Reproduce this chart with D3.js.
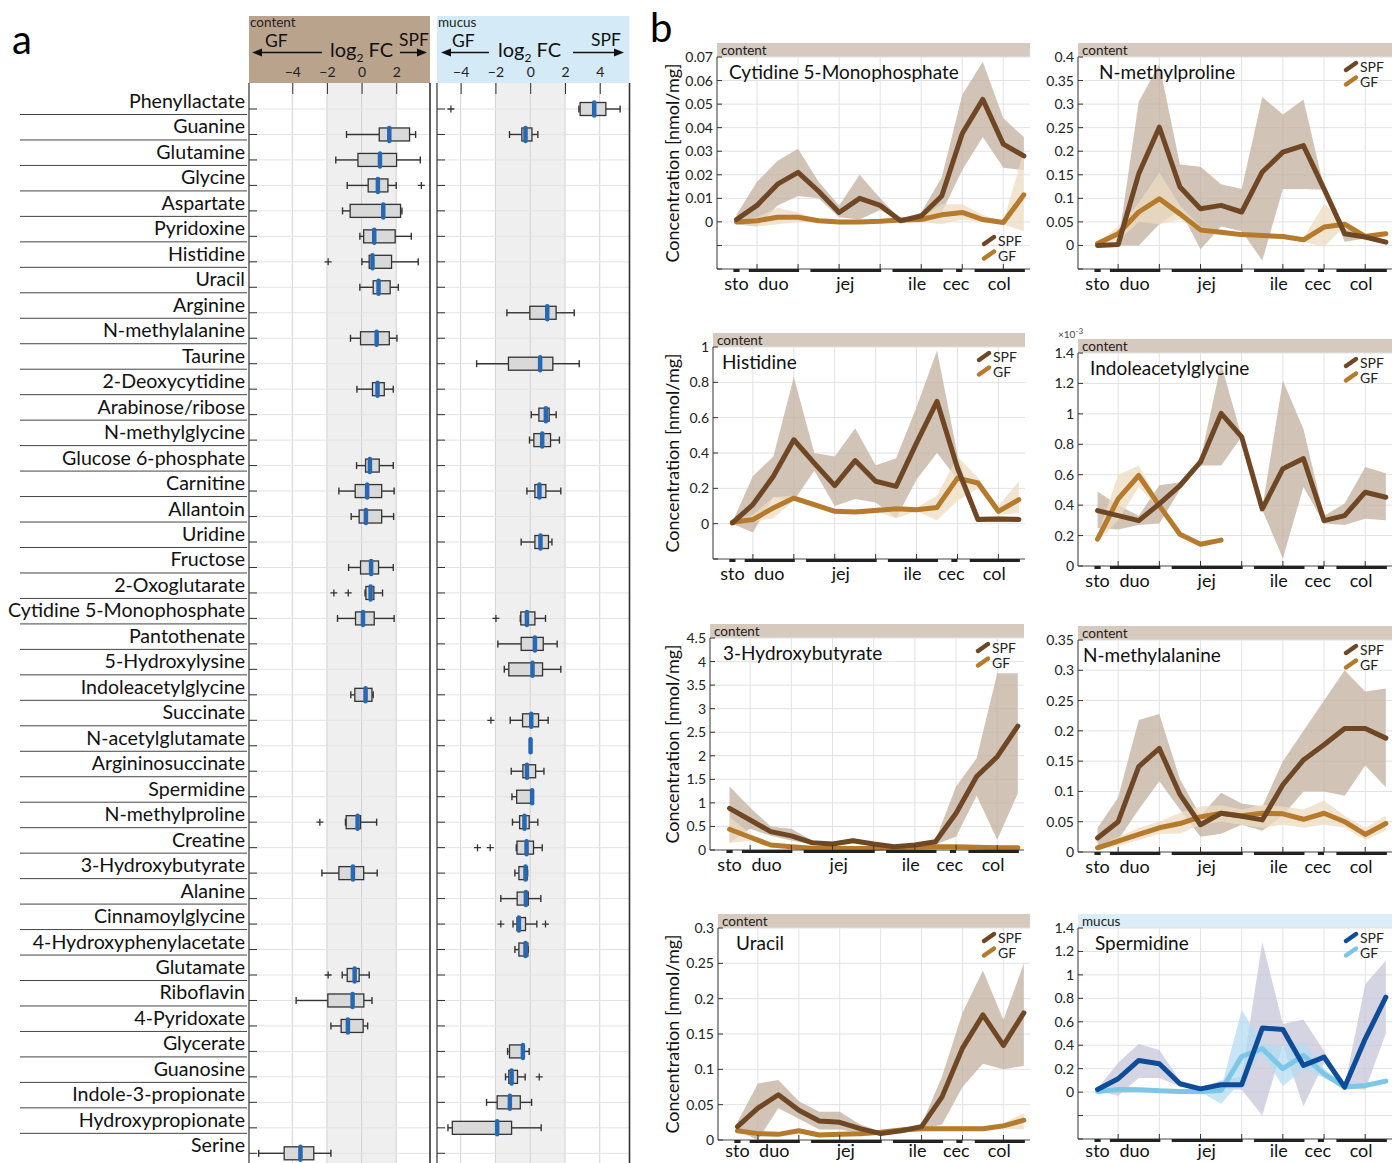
<!DOCTYPE html>
<html>
<head>
<meta charset="utf-8">
<script src="https://cdn.jsdelivr.net/npm/d3@7"></script>
<style>
body { margin: 0; background: #fff; }
svg { font-family: Lato, "Noto Sans", sans-serif; }
</style>
</head>
<body>
<script>
// ---------- panel a: log2 fold change per metabolite ----------
var metabolites = ["Phenyllactate", "Guanine", "Glutamine", "Glycine", "Aspartate", "Pyridoxine",
  "Histidine", "Uracil", "Arginine", "N-methylalanine", "Taurine", "2-Deoxycytidine",
  "Arabinose/ribose", "N-methylglycine", "Glucose 6-phosphate", "Carnitine", "Allantoin",
  "Uridine", "Fructose", "2-Oxoglutarate", "Cytidine 5-Monophosphate", "Pantothenate",
  "5-Hydroxylysine", "Indoleacetylglycine", "Succinate", "N-acetylglutamate",
  "Argininosuccinate", "Spermidine", "N-methylproline", "Creatine", "3-Hydroxybutyrate",
  "Alanine", "Cinnamoylglycine", "4-Hydroxyphenylacetate", "Glutamate", "Riboflavin",
  "4-Pyridoxate", "Glycerate", "Guanosine", "Indole-3-propionate", "Hydroxypropionate", "Serine"]

// [whisker low, q1, median, q3, whisker high]
var contentStats = [null, [-0.87, 1.02, 1.6, 2.77, 3.12], [-1.49, -0.21, 1.06, 2.02, 3.39],
  [-0.83, 0.38, 0.94, 1.52, 2.0], [-1.1, -0.66, 1.25, 2.25, 2.33], [-0.1, 0.12, 0.73, 1.94, 2.87],
  [0.02, 0.44, 0.63, 1.73, 3.27], [-0.1, 0.67, 0.98, 1.65, 2.12], null,
  [-0.64, -0.06, 0.87, 1.6, 2.04], null, [-0.27, 0.63, 0.92, 1.31, 1.83], null, null,
  [-0.29, 0.23, 0.48, 1.02, 1.83], [-1.31, -0.37, 0.32, 1.16, 1.88], [-0.6, -0.14, 0.25, 1.16, 1.85],
  null, [-0.75, -0.06, 0.55, 0.98, 1.83], [0.2, 0.25, 0.52, 0.71, 1.21],
  [-1.39, -0.35, 0.08, 0.73, 1.88], null, null, [-0.62, -0.39, 0.23, 0.6, 0.67], null, null, null, null,
  [-0.93, -0.89, -0.23, -0.06, 0.87], null, [-2.29, -1.31, -0.5, 0.12, 0.9], null, null, null,
  [-1.12, -0.83, -0.4, -0.14, 0.44], [-3.78, -1.95, -0.52, 0.13, 0.6], [-1.77, -1.18, -0.79, 0.09, 0.35],
  null, null, null, null, [-5.94, -4.47, -3.53, -2.76, -1.77]]

var mucusStats = [[2.8, 2.87, 3.68, 4.35, 5.17], [-1.19, -0.48, -0.27, 0.1, 0.44], null, null, null, null,
  null, null, [-1.34, -0.02, 0.98, 1.49, 2.53], null, [-3.08, -1.25, 0.57, 1.3, 2.82], null,
  [0.06, 0.5, 0.9, 1.09, 1.49], [-0.04, 0.21, 0.69, 1.17, 1.68], null, [-0.19, 0.27, 0.53, 0.9, 1.76],
  null, [-0.52, 0.27, 0.59, 1.05, 1.25], null, null, [-0.57, -0.54, -0.19, 0.27, 0.88],
  [-1.86, -0.52, 0.27, 0.75, 1.55], [-1.49, -1.23, 0.13, 0.71, 1.76], null,
  [-1.15, -0.44, 0.06, 0.48, 1.03], [0.02, 0.02, 0.02, 0.02, 0.02], [-1.09, -0.42, -0.19, 0.31, 0.79],
  [-1.05, -0.78, 0.11, 0.11, 0.11], [-1.02, -0.61, -0.33, -0.06, 0.44], [-0.8, -0.76, -0.21, 0.19, 0.69],
  [-0.88, -0.65, -0.27, -0.16, -0.15], [-1.69, -0.75, -0.25, -0.11, 0.61],
  [-0.99, -0.76, -0.65, -0.27, 0.38], [-0.88, -0.65, -0.27, -0.13, -0.12], null, null, null,
  [-1.3, -1.19, -0.42, -0.42, -0.06], [-1.42, -1.23, -1.07, -0.73, -0.29],
  [-2.51, -1.9, -1.17, -0.57, 0.08], [-4.73, -4.48, -1.9, -1.07, 0.63], null]

// [row index, value]
var contentOutliers = [[3, 3.45], [6, -1.93], [19, -1.6], [19, -0.77], [28, -2.41], [34, -1.93]]
var mucusOutliers = [[0, -4.56], [20, -1.97], [24, -2.26], [29, -3.03], [29, -2.3], [32, -1.69],
  [32, 0.88], [38, 0.52]]

var contentTicks = [-4, -2, 0, 2]
var mucusTicks = [-4, -2, 0, 2, 4]

// ---------- panel b: concentration along the gut ----------
var regionNames = ["sto", "duo", "jej", "ile", "cec", "col"]
var regionStart = [-0.15, 0.6, 3.6, 7.6, 10.7, 11.6]
var regionEnd = [0.15, 3.05, 7.05, 10.05, 11.0, 14.05]
var regionLabelAt = [0, 1.8, 5.3, 8.8, 10.7, 12.8]
var sites = d3.range(15)

var cmpSPF = { mean: [0.001, 0.007, 0.016, 0.021, 0.013, 0.004, 0.010, 0.007, 0.0005, 0.0025, 0.011, 0.0375, 0.052, 0.033, 0.028],
  hi: [0.003, 0.017, 0.026, 0.031, 0.017, 0.007, 0.020, 0.010, 0.001, 0.004, 0.019, 0.054, 0.068, 0.044, 0.036],
  lo: [-0.001, -0.002, 0.007, 0.011, 0.010, 0.002, 0.001, 0.005, 0.0, 0.001, 0.004, 0.022, 0.036, 0.023, 0.022] }
var cmpGF = { mean: [0.0, 0.0005, 0.002, 0.002, 0.0005, 0.0, 0.0, 0.0003, 0.0008, 0.001, 0.003, 0.004, 0.001, -0.0003, 0.0115],
  hi: [0.0005, 0.002, 0.006, 0.004, 0.001, 0.0005, 0.0005, 0.001, 0.0015, 0.002, 0.0075, 0.0075, 0.003, 0.0, 0.03],
  lo: [-0.0005, -0.002, -0.001, 0.0, 0.0, -0.0005, -0.0005, 0.0, 0.0, 0.0, -0.001, 0.001, 0.0, -0.001, -0.004] }

var nmpSPF = { mean: [0.0, 0.002, 0.152, 0.251, 0.124, 0.078, 0.085, 0.071, 0.156, 0.198, 0.212, 0.12, 0.025, 0.018, 0.007],
  hi: [0.003, 0.005, 0.305, 0.385, 0.172, 0.167, 0.13, 0.12, 0.315, 0.278, 0.31, 0.122, 0.035, 0.025, 0.01],
  lo: [0.0, 0.0, 0.0, 0.045, 0.075, -0.008, 0.04, 0.03, -0.032, 0.12, 0.12, 0.118, 0.008, 0.015, 0.005] }
var nmpGF = { mean: [0.004, 0.025, 0.071, 0.099, 0.067, 0.033, 0.028, 0.023, 0.021, 0.019, 0.012, 0.039, 0.045, 0.019, 0.025],
  hi: [0.006, 0.04, 0.09, 0.155, 0.085, 0.04, 0.033, 0.027, 0.025, 0.023, 0.016, 0.088, 0.05, 0.025, 0.03],
  lo: [0.002, 0.01, 0.05, 0.045, 0.055, 0.028, 0.022, 0.018, 0.016, 0.015, 0.008, -0.003, 0.04, 0.01, 0.02] }

var hisSPF = { mean: [0.004, 0.108, 0.268, 0.475, 0.343, 0.215, 0.357, 0.24, 0.211, 0.457, 0.692, 0.315, 0.023, 0.026, 0.023],
  hi: [0.01, 0.27, 0.38, 0.83, 0.40, 0.38, 0.54, 0.33, 0.37, 0.66, 0.98, 0.39, 0.04, 0.04, 0.04],
  lo: [0.0, -0.05, 0.15, 0.13, 0.3, 0.1, 0.14, 0.12, 0.03, 0.25, 0.4, 0.25, 0.01, 0.01, 0.01] }
var hisGF = { mean: [0.008, 0.023, 0.089, 0.145, 0.108, 0.07, 0.066, 0.075, 0.085, 0.079, 0.092, 0.258, 0.23, 0.07, 0.136],
  hi: [0.01, 0.05, 0.15, 0.16, 0.12, 0.08, 0.08, 0.09, 0.1, 0.09, 0.16, 0.38, 0.26, 0.1, 0.24],
  lo: [0.005, 0.01, 0.03, 0.13, 0.09, 0.06, 0.06, 0.07, 0.03, 0.07, 0.02, 0.13, 0.2, 0.05, 0.06] }

// values in units of 1e-3 nmol/mg
var iagSPF = { mean: [0.364, 0.331, 0.298, 0.408, 0.529, 0.684, 1.003, 0.849, 0.375, 0.64, 0.706, 0.298, 0.331, 0.485, 0.452],
  hi: [0.49, 0.40, 0.33, 0.53, 0.55, 0.70, 1.33, 0.85, 0.38, 1.22, 0.9, 0.33, 0.41, 0.65, 0.61],
  lo: [0.25, 0.24, 0.27, 0.28, 0.5, 0.66, 0.66, 0.85, 0.37, 0.05, 0.52, 0.28, 0.27, 0.31, 0.3] }
var iagGF = { mean: [0.176, 0.441, 0.595, 0.397, 0.209, 0.143, 0.17, null, null, null, null, null, null, null, null],
  hi: [0.2, 0.6, 0.66, 0.42, 0.22, 0.15, 0.18, null, null, null, null, null, null, null, null],
  lo: [0.16, 0.3, 0.52, 0.38, 0.2, 0.14, 0.16, null, null, null, null, null, null, null, null] }

var hbSPF = { mean: [0.885, 0.637, 0.39, 0.3, 0.156, 0.128, 0.198, 0.128, 0.07, 0.106, 0.177, 0.78, 1.56, 1.98, 2.63],
  hi: [1.35, 0.9, 0.5, 0.45, 0.2, 0.17, 0.25, 0.16, 0.1, 0.13, 0.22, 1.35, 1.95, 3.75, 3.75],
  lo: [0.15, 0.45, 0.3, 0.2, 0.12, 0.1, 0.15, 0.1, 0.04, 0.08, 0.12, 0.28, 1.15, 0.22, 1.2] }
var hbGF = { mean: [0.44, 0.27, 0.106, 0.07, 0.035, 0.03, 0.03, 0.03, 0.05, 0.06, 0.07, 0.07, 0.06, 0.05, 0.05],
  hi: [0.7, 0.35, 0.15, 0.1, 0.05, 0.04, 0.04, 0.04, 0.07, 0.08, 0.09, 0.09, 0.08, 0.07, 0.07],
  lo: [0.15, 0.2, 0.08, 0.05, 0.02, 0.02, 0.02, 0.02, 0.03, 0.04, 0.05, 0.05, 0.04, 0.03, 0.03] }

var nmaSPF = { mean: [0.023, 0.05, 0.141, 0.171, 0.095, 0.045, 0.064, 0.059, 0.053, 0.111, 0.152, 0.177, 0.204, 0.204, 0.188],
  hi: [0.04, 0.09, 0.218, 0.228, 0.12, 0.06, 0.098, 0.08, 0.075, 0.15, 0.2, 0.25, 0.3, 0.265, 0.27],
  lo: [0.01, 0.02, 0.07, 0.117, 0.07, 0.025, 0.03, 0.045, 0.035, 0.06, 0.1, 0.1, 0.093, 0.143, 0.107] }
var nmaGF = { mean: [0.007, 0.018, 0.029, 0.04, 0.047, 0.058, 0.064, 0.06, 0.064, 0.063, 0.054, 0.064, 0.05, 0.029, 0.047],
  hi: [0.01, 0.025, 0.04, 0.05, 0.065, 0.075, 0.077, 0.07, 0.078, 0.075, 0.07, 0.085, 0.06, 0.04, 0.06],
  lo: [0.003, 0.01, 0.02, 0.03, 0.03, 0.045, 0.05, 0.045, 0.04, 0.045, 0.04, 0.045, 0.04, 0.02, 0.035] }

var uraSPF = { mean: [0.019, 0.045, 0.064, 0.042, 0.027, 0.025, 0.016, 0.009, 0.013, 0.019, 0.061, 0.13, 0.177, 0.134, 0.18],
  hi: [0.025, 0.08, 0.085, 0.055, 0.04, 0.04, 0.022, 0.012, 0.017, 0.022, 0.09, 0.18, 0.24, 0.17, 0.25],
  lo: [0.013, 0.0, 0.045, 0.03, 0.015, 0.015, 0.01, 0.007, 0.01, 0.015, 0.022, 0.075, 0.108, 0.1, 0.105] }
var uraGF = { mean: [0.013, 0.009, 0.008, 0.013, 0.007, 0.008, 0.009, 0.011, 0.014, 0.016, 0.016, 0.016, 0.016, 0.02, 0.028],
  hi: [0.016, 0.012, 0.011, 0.016, 0.01, 0.011, 0.012, 0.014, 0.017, 0.019, 0.019, 0.019, 0.019, 0.024, 0.038],
  lo: [0.01, 0.006, 0.005, 0.01, 0.004, 0.005, 0.006, 0.008, 0.011, 0.013, 0.013, 0.013, 0.013, 0.016, 0.015] }

var spdSPF = { mean: [0.023, 0.114, 0.27, 0.242, 0.071, 0.028, 0.063, 0.063, 0.546, 0.535, 0.228, 0.299, 0.043, 0.455, 0.81],
  hi: [0.03, 0.25, 0.41, 0.36, 0.1, 0.04, 0.1, 0.13, 1.28, 0.58, 0.62, 0.35, 0.05, 0.92, 1.12],
  lo: [0.01, -0.03, 0.12, 0.12, 0.05, 0.02, 0.03, 0.02, -0.2, 0.4, -0.12, 0.25, 0.04, 0.02, 0.5] }
var spdGF = { mean: [0.006, 0.023, 0.02, 0.011, 0.006, 0.006, 0.014, 0.304, 0.37, 0.2, 0.313, 0.156, 0.043, 0.057, 0.094],
  hi: [0.02, 0.04, 0.04, 0.03, 0.02, 0.02, 0.03, 0.7, 0.42, 0.38, 0.43, 0.2, 0.06, 0.07, 0.11],
  lo: [0.0, 0.01, 0.01, 0.0, 0.0, 0.0, -0.1, 0.1, 0.33, 0.05, 0.2, 0.12, 0.03, 0.04, 0.08] }

var contentColors = { spf: "#6f4725", gf: "#b57a2b", spfBand: "#c2b09e", gfBand: "#ecdcc2", header: "#d6c9bd" }
var mucusColors = { spf: "#0e4c99", gf: "#7ec6e8", spfBand: "#c5c5da", gfBand: "#b4dcf1", header: "#dbedf7" }

var profiles = [
  { title: "Cytidine 5-Monophosphate", spf: cmpSPF, gf: cmpGF, y: [-0.02, 0.07], step: 0.01, tissue: "content",
    box: [717, 1030, 57, 269], titleDx: 12, legendBottom: true, yLabel: true },
  { title: "N-methylproline", spf: nmpSPF, gf: nmpGF, y: [-0.05, 0.4], step: 0.05, tissue: "content",
    box: [1078, 1392, 57, 269], titleDx: 21 },
  { title: "Histidine", spf: hisSPF, gf: hisGF, y: [-0.2, 1], step: 0.2, tissue: "content",
    box: [713, 1025, 347, 559], titleDx: 9, yLabel: true },
  { title: "Indoleacetylglycine", spf: iagSPF, gf: iagGF, y: [0, 1.4], step: 0.2, tissue: "content",
    box: [1078, 1392, 353, 566], titleDx: 12, exponent: "-3" },
  { title: "3-Hydroxybutyrate", spf: hbSPF, gf: hbGF, y: [0, 4.5], step: 0.5, tissue: "content",
    box: [710, 1024, 638, 850], titleDx: 13, yLabel: true },
  { title: "N-methylalanine", spf: nmaSPF, gf: nmaGF, y: [0, 0.35], step: 0.05, tissue: "content",
    box: [1078, 1392, 640, 852], titleDx: 5 },
  { title: "Uracil", spf: uraSPF, gf: uraGF, y: [0, 0.3], step: 0.05, tissue: "content",
    box: [718, 1030, 928, 1140], titleDx: 18, yLabel: true },
  { title: "Spermidine", spf: spdSPF, gf: spdGF, y: [-0.4, 1.4], step: 0.2, tissue: "mucus",
    box: [1078, 1392, 928, 1139], titleDx: 17 }
]

var svg = d3.select("body").append("svg")
  .attr("width", 1392).attr("height", 1163)

svg.append("text").attr("x", 12).attr("y", 54).attr("font-size", 40).text("a")
svg.append("text").attr("x", 650).attr("y", 42).attr("font-size", 40).text("b")

// ---------- panel a ----------
var rowY = d3.scaleLinear().domain([0, metabolites.length - 1]).range([109, 1153.3])
var plotTop = 83, plotBottom = 1163

var labels = svg.append("g")
labels.selectAll("text").data(metabolites).enter().append("text")
  .attr("x", 245).attr("y", function(d, i) { return rowY(i) - 1 })
  .attr("text-anchor", "end").attr("font-size", 19.6).attr("fill", "#111")
  .text(function(d) { return d })
labels.selectAll("line").data(metabolites.slice(0, -1)).enter().append("line")
  .attr("x1", 20).attr("x2", 247)
  .attr("y1", function(d, i) { return rowY(i) + 5.5 }).attr("y2", function(d, i) { return rowY(i) + 5.5 })
  .attr("stroke", "#444").attr("stroke-width", 1)

function drawArrow(g, xFrom, xTo, y) {
  var dir = xTo > xFrom ? 1 : -1
  g.append("line").attr("x1", xFrom).attr("x2", xTo - dir * 6).attr("y1", y).attr("y2", y)
    .attr("stroke", "#111").attr("stroke-width", 1.5)
  g.append("path")
    .attr("d", "M" + xTo + "," + y + "L" + (xTo - dir * 10) + "," + (y - 4) + "L" + (xTo - dir * 10) + "," + (y + 4) + "Z")
    .attr("fill", "#111")
}

function drawFoldPanel(p) {
  var g = svg.append("g")
  var x = d3.scaleLinear().domain(p.domain).range([p.left, p.right])

  g.append("rect").attr("x", p.left).attr("y", 16).attr("width", p.right - p.left).attr("height", plotTop - 16)
    .attr("fill", p.headerColor)
  g.append("text").attr("x", p.left + 1).attr("y", 27).attr("font-size", 13.5).attr("fill", "#222").text(p.name)
  g.append("text").attr("x", p.gfX).attr("y", 47).attr("font-size", 17.5).attr("fill", "#111").text("GF")
  g.append("text").attr("x", p.spfX).attr("y", 46).attr("font-size", 17.5).attr("fill", "#111").text("SPF")
  var lf = g.append("text").attr("x", p.logX).attr("y", 57).attr("font-size", 20).attr("fill", "#111")
  lf.append("tspan").text("log")
  lf.append("tspan").attr("font-size", 12).attr("dy", 5).text("2")
  lf.append("tspan").attr("dy", -5).text(" FC")
  drawArrow(g, p.leftArrow[0], p.leftArrow[1], 52.5)
  drawArrow(g, p.rightArrow[0], p.rightArrow[1], 52.5)

  g.append("rect").attr("x", x(-2)).attr("y", plotTop).attr("width", x(2) - x(-2)).attr("height", plotBottom - plotTop)
    .attr("fill", "#efefef")
  g.selectAll(".vgrid").data(p.ticks).enter().append("line")
    .attr("x1", function(d) { return x(d) }).attr("x2", function(d) { return x(d) })
    .attr("y1", plotTop).attr("y2", plotBottom).attr("stroke", "#d2d2d2")
  g.selectAll(".hgrid").data(metabolites).enter().append("line")
    .attr("x1", p.left).attr("x2", p.right)
    .attr("y1", function(d, i) { return rowY(i) }).attr("y2", function(d, i) { return rowY(i) })
    .attr("stroke", "#e3e3e3")

  var axis = d3.axisTop(x).tickValues(p.ticks).tickSize(-11).tickPadding(6)
  var ax = g.append("g").attr("transform", "translate(0," + plotTop + ")").call(axis)
  ax.select(".domain").remove()
  ax.selectAll("line").attr("stroke", "#333")
  ax.selectAll("text").attr("font-size", 14).attr("fill", "#222").attr("font-family", "Lato, sans-serif")

  g.selectAll(".rtick").data(metabolites).enter().append("line")
    .attr("x1", p.left).attr("x2", p.left + 8)
    .attr("y1", function(d, i) { return rowY(i) }).attr("y2", function(d, i) { return rowY(i) })
    .attr("stroke", "#333")
  g.append("line").attr("x1", p.left).attr("x2", p.left).attr("y1", plotTop).attr("y2", plotBottom)
    .attr("stroke", "#333").attr("stroke-width", 1.2)
  g.append("line").attr("x1", p.right).attr("x2", p.right).attr("y1", plotTop).attr("y2", plotBottom)
    .attr("stroke", "#333").attr("stroke-width", 1.6)

  var rows = []
  p.stats.forEach(function(s, i) { if (s) rows.push({ i: i, s: s }) })
  var box = g.selectAll(".box").data(rows).enter().append("g")
    .attr("transform", function(d) { return "translate(0," + rowY(d.i) + ")" })
  box.append("line").attr("x1", function(d) { return x(d.s[0]) }).attr("x2", function(d) { return x(d.s[1]) })
    .attr("stroke", "#333").attr("stroke-width", 1.4)
  box.append("line").attr("x1", function(d) { return x(d.s[3]) }).attr("x2", function(d) { return x(d.s[4]) })
    .attr("stroke", "#333").attr("stroke-width", 1.4)
  box.append("line").attr("x1", function(d) { return x(d.s[0]) }).attr("x2", function(d) { return x(d.s[0]) })
    .attr("y1", -3.5).attr("y2", 3.5).attr("stroke", "#333").attr("stroke-width", 1.4)
  box.append("line").attr("x1", function(d) { return x(d.s[4]) }).attr("x2", function(d) { return x(d.s[4]) })
    .attr("y1", -3.5).attr("y2", 3.5).attr("stroke", "#333").attr("stroke-width", 1.4)
  box.append("rect").attr("x", function(d) { return x(d.s[1]) }).attr("y", -6.5)
    .attr("width", function(d) { return x(d.s[3]) - x(d.s[1]) }).attr("height", 13)
    .attr("fill", "#d9d9d9").attr("stroke", "#333").attr("stroke-width", 1.3)
  box.append("line").attr("x1", function(d) { return x(d.s[2]) }).attr("x2", function(d) { return x(d.s[2]) })
    .attr("y1", -6.5).attr("y2", 6.5).attr("stroke", "#2768b3").attr("stroke-width", 4.5).attr("stroke-linecap", "round")

  g.selectAll(".out").data(p.outliers).enter().append("path")
    .attr("d", function(d) {
      var cx = x(d[1]), cy = rowY(d[0])
      return "M" + (cx - 3.5) + "," + cy + "H" + (cx + 3.5) + "M" + cx + "," + (cy - 3.5) + "V" + (cy + 3.5)
    })
    .attr("stroke", "#333").attr("stroke-width", 1.3)
}

drawFoldPanel({ name: "content", left: 249, right: 430, domain: [-6.5, 3.95], ticks: contentTicks,
  stats: contentStats, outliers: contentOutliers, headerColor: "#b9a38d",
  gfX: 265, spfX: 399, logX: 330, leftArrow: [322, 252], rightArrow: [400, 427] })
drawFoldPanel({ name: "mucus", left: 437, right: 629.5, domain: [-5.36, 5.71], ticks: mucusTicks,
  stats: mucusStats, outliers: mucusOutliers, headerColor: "#d4eaf7",
  gfX: 452, spfX: 591, logX: 498, leftArrow: [489, 441], rightArrow: [573, 624] })

// ---------- panel b ----------
function drawProfile(p) {
  var l = p.box[0], r = p.box[1], t = p.box[2], b = p.box[3]
  var colors = p.tissue === "mucus" ? mucusColors : contentColors
  var x = d3.scaleLinear().domain([-0.95, 14.3]).range([l, r])
  var y = d3.scaleLinear().domain(p.y).range([b, t])
  var g = svg.append("g")

  g.append("rect").attr("x", l).attr("y", t - 14).attr("width", r - l).attr("height", 14).attr("fill", colors.header)
  g.append("text").attr("x", l + 4).attr("y", t - 2.5).attr("font-size", 13.5).attr("fill", "#222").text(p.tissue)

  var n = Math.round((p.y[1] - p.y[0]) / p.step)
  var gridVals = d3.range(n + 1).map(function(i) { return +(p.y[0] + i * p.step).toFixed(6) })
  var oddSites = sites.filter(function(s) { return s % 2 === 1 })

  g.selectAll(".yg").data(gridVals).enter().append("line")
    .attr("x1", l).attr("x2", r).attr("y1", function(d) { return y(d) }).attr("y2", function(d) { return y(d) })
    .attr("stroke", "#e2e2e2")
  g.selectAll(".xg").data(oddSites).enter().append("line")
    .attr("x1", function(d) { return x(d) }).attr("x2", function(d) { return x(d) })
    .attr("y1", t).attr("y2", b).attr("stroke", "#e2e2e2")

  var groups = [{ s: p.spf, line: colors.spf, band: colors.spfBand, op: 0.75 },
    { s: p.gf, line: colors.gf, band: colors.gfBand, op: 0.75 }]
  groups.forEach(function(gr) {
    var area = d3.area()
      .defined(function(d, i) { return gr.s.lo[i] != null })
      .x(function(d) { return x(d) })
      .y0(function(d, i) { return y(gr.s.lo[i]) })
      .y1(function(d, i) { return y(gr.s.hi[i]) })
    g.append("path").attr("d", area(sites)).attr("fill", gr.band).attr("fill-opacity", gr.op)
  })
  groups.slice().reverse().forEach(function(gr) {
    var line = d3.line()
      .defined(function(d, i) { return gr.s.mean[i] != null })
      .x(function(d) { return x(d) })
      .y(function(d, i) { return y(gr.s.mean[i]) })
    g.append("path").attr("d", line(sites)).attr("fill", "none").attr("stroke", gr.line)
      .attr("stroke-width", 5).attr("stroke-linejoin", "round").attr("stroke-linecap", "round")
  })

  // axes
  g.append("line").attr("x1", l).attr("x2", l).attr("y1", t).attr("y2", b).attr("stroke", "#333")
  g.append("line").attr("x1", l).attr("x2", r).attr("y1", b).attr("y2", b).attr("stroke", "#555")
  g.selectAll(".yt").data(gridVals).enter().append("line")
    .attr("x1", l).attr("x2", l + 5).attr("y1", function(d) { return y(d) }).attr("y2", function(d) { return y(d) })
    .attr("stroke", "#333")
  g.selectAll(".xt").data(oddSites).enter().append("line")
    .attr("x1", function(d) { return x(d) }).attr("x2", function(d) { return x(d) })
    .attr("y1", b).attr("y2", b - 5).attr("stroke", "#333")
  g.selectAll(".yl").data(gridVals.filter(function(d) { return d >= 0 })).enter().append("text")
    .attr("x", l - 4).attr("y", function(d) { return y(d) + 5 })
    .attr("text-anchor", "end").attr("font-size", 14).attr("fill", "#222")
    .text(function(d) { return d3.format("~g")(d) })
  g.selectAll(".reg").data(regionNames).enter().append("line")
    .attr("x1", function(d, i) { return x(regionStart[i]) }).attr("x2", function(d, i) { return x(regionEnd[i]) })
    .attr("y1", b + 1.5).attr("y2", b + 1.5).attr("stroke", "#222").attr("stroke-width", 3)
  g.selectAll(".rl").data(regionNames).enter().append("text")
    .attr("x", function(d, i) { return x(regionLabelAt[i]) }).attr("y", Math.min(b + 21, 1157))
    .attr("text-anchor", "middle").attr("font-size", 18).attr("fill", "#111")
    .text(function(d) { return d })

  if (p.exponent) {
    var ex = g.append("text").attr("x", l - 20).attr("y", t - 15).attr("font-size", 10).attr("fill", "#444")
    ex.append("tspan").text("×10")
    ex.append("tspan").attr("dy", -4).attr("font-size", 8).text(p.exponent)
  }
  if (p.yLabel) {
    g.append("text").attr("transform", "translate(" + 679 + "," + ((t + b) / 2) + ") rotate(-90)")
      .attr("text-anchor", "middle").attr("font-size", 18).attr("fill", "#111")
      .text("Concentration [nmol/mg]")
  }

  g.append("text").attr("x", l + p.titleDx).attr("y", t + 22).attr("font-size", 19).attr("fill", "#111").text(p.title)

  var ly = p.legendBottom ? b - 23 : t + 15
  var tx = r - 32
  ;[["SPF", colors.spf], ["GF", colors.gf]].forEach(function(item, k) {
    var by = ly + k * 14.5
    g.append("line").attr("x1", tx - 14).attr("y1", by - 2).attr("x2", tx - 4).attr("y2", by - 9)
      .attr("stroke", item[1]).attr("stroke-width", 4.5).attr("stroke-linecap", "round")
    g.append("text").attr("x", tx).attr("y", by).attr("font-size", 14).attr("fill", "#222").text(item[0])
  })
}

profiles.forEach(drawProfile)
</script>
</body>
</html>
